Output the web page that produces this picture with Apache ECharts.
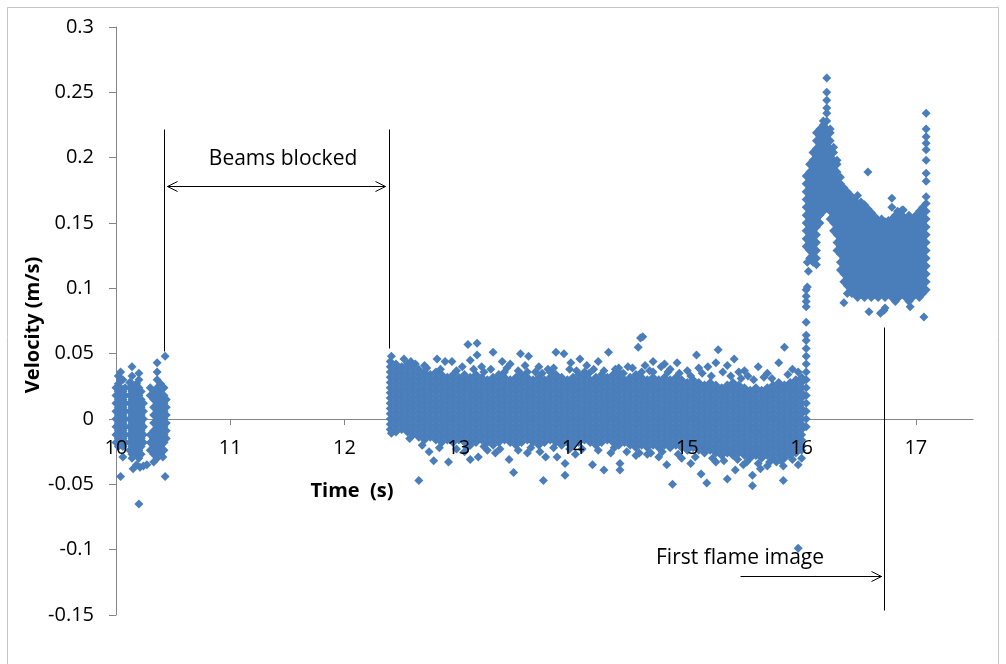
<!DOCTYPE html>
<html>
<head>
<meta charset="utf-8">
<script src="https://cdn.jsdelivr.net/npm/echarts@6/dist/echarts.min.js"></script>
<style>
  html, body { margin: 0; padding: 0; background: #ffffff; }
  #chart { width: 1006px; height: 664px; }
</style>
</head>
<body>
<div id="chart"></div>
<script>
// Velocity samples, recorded in mm/s and plotted in m/s.
// Each column row: [time (s), velocity, velocity, ...] for samples sharing that time bin.

// Before the beams are blocked
const preBlockColumns = [
  [10.00, -18, -12, -6, 0, 6, 12, 18, 24],
  [10.02, -21, -15, -9, -3, 3, 9, 15, 21, 27, 33],
  [10.04, -18, -12, -6, 0, 6, 12, 18, 24, 30, 36],
  [10.06, -21, -15, -9, -3, 3, 9, 15, 21, 30],
  [10.08, -18, -12, -6, 0, 6, 12, 18, 24],
  [10.12, -24, -18, -12, -6, 0, 6, 12, 18, 24, 28],
  [10.14, -30, -27, -21, -15, -9, -3, 3, 9, 15, 21, 27, 33, 40],
  [10.16, -24, -18, -12, -6, 0, 6, 12, 18, 24],
  [10.18, -27, -21, -15, -9, -3, 3, 9, 15, 21, 27],
  [10.20, -30, -24, -18, -12, -6, 0, 6, 12, 18, 24, 30, 35],
  [10.22, -27, -21, -15, -9, -3, 3, 9, 15, 21],
  [10.24, -18, -12, -6, 0, 6, 12],
  [10.30, -24, -18, -12, 18, 24],
  [10.33, -27, -21, -15, -9, -3, 3, 9, 15, 21],
  [10.36, -30, -24, -18, -12, -6, 0, 6, 12, 18, 24, 30, 36, 43],
  [10.39, -27, -21, -15, -9, -3, 3, 9, 15, 21, 27],
  [10.42, -24, -18, -12, -6, 0, 6, 12, 18, 24],
  [10.44, -15, -9, -3, 3, 9, 15]
];

// After the beams clear, up to ignition
const postBlockColumns = [
  [12.40, -8, -4, 0, 4, 8, 12, 16, 20, 24, 28, 32, 36, 40, 44],
  [12.45, -10, -6, -2, 2, 6, 10, 14, 18, 22, 26, 30, 34, 38, 42],
  [12.50, -8, -4, 0, 4, 8, 12, 16, 20, 24, 28, 32, 36, 40],
  [12.55, -10, -6, -2, 2, 6, 10, 14, 18, 22, 26, 30, 34, 38, 42],
  [12.60, -12, -8, -4, 0, 4, 8, 12, 16, 20, 24, 28, 32, 36, 40],
  [12.65, -14, -10, -6, -2, 2, 6, 10, 14, 18, 22, 26, 30, 34, 38],
  [12.70, -16, -12, -8, -4, 0, 4, 8, 12, 16, 20, 24, 28, 32, 36],
  [12.75, -14, -10, -6, -2, 2, 6, 10, 14, 18, 22, 26, 30, 34],
  [12.80, -16, -12, -8, -4, 0, 4, 8, 12, 16, 20, 24, 28, 32, 36],
  [12.85, -18, -14, -10, -6, -2, 2, 6, 10, 14, 18, 22, 26, 30, 34],
  [12.90, -16, -12, -8, -4, 0, 4, 8, 12, 16, 20, 24, 28, 32],
  [12.95, -18, -14, -10, -6, -2, 2, 6, 10, 14, 18, 22, 26, 30, 34],
  [13.00, -16, -12, -8, -4, 0, 4, 8, 12, 16, 20, 24, 28, 32],
  [13.05, -18, -14, -10, -6, -2, 2, 6, 10, 14, 18, 22, 26, 30, 34],
  [13.10, -20, -16, -12, -8, -4, 0, 4, 8, 12, 16, 20, 24, 28, 32],
  [13.15, -18, -14, -10, -6, -2, 2, 6, 10, 14, 18, 22, 26, 30, 34],
  [13.20, -16, -12, -8, -4, 0, 4, 8, 12, 16, 20, 24, 28, 32],
  [13.25, -18, -14, -10, -6, -2, 2, 6, 10, 14, 18, 22, 26, 30],
  [13.30, -20, -16, -12, -8, -4, 0, 4, 8, 12, 16, 20, 24, 28, 32],
  [13.35, -18, -14, -10, -6, -2, 2, 6, 10, 14, 18, 22, 26, 30, 34],
  [13.40, -16, -12, -8, -4, 0, 4, 8, 12, 16, 20, 24, 28, 32, 36],
  [13.45, -18, -14, -10, -6, -2, 2, 6, 10, 14, 18, 22, 26, 30],
  [13.50, -20, -16, -12, -8, -4, 0, 4, 8, 12, 16, 20, 24, 28, 32],
  [13.55, -18, -14, -10, -6, -2, 2, 6, 10, 14, 18, 22, 26, 30, 34],
  [13.60, -16, -12, -8, -4, 0, 4, 8, 12, 16, 20, 24, 28, 32, 36],
  [13.65, -18, -14, -10, -6, -2, 2, 6, 10, 14, 18, 22, 26, 30],
  [13.70, -20, -16, -12, -8, -4, 0, 4, 8, 12, 16, 20, 24, 28, 32],
  [13.75, -18, -14, -10, -6, -2, 2, 6, 10, 14, 18, 22, 26, 30],
  [13.80, -16, -12, -8, -4, 0, 4, 8, 12, 16, 20, 24, 28, 32, 36],
  [13.85, -18, -14, -10, -6, -2, 2, 6, 10, 14, 18, 22, 26, 30, 34],
  [13.90, -20, -16, -12, -8, -4, 0, 4, 8, 12, 16, 20, 24, 28, 32],
  [13.95, -18, -14, -10, -6, -2, 2, 6, 10, 14, 18, 22, 26, 30],
  [14.00, -20, -16, -12, -8, -4, 0, 4, 8, 12, 16, 20, 24, 28, 32],
  [14.05, -18, -14, -10, -6, -2, 2, 6, 10, 14, 18, 22, 26, 30, 34],
  [14.10, -16, -12, -8, -4, 0, 4, 8, 12, 16, 20, 24, 28, 32, 36],
  [14.15, -18, -14, -10, -6, -2, 2, 6, 10, 14, 18, 22, 26, 30],
  [14.20, -20, -16, -12, -8, -4, 0, 4, 8, 12, 16, 20, 24, 28, 32],
  [14.25, -18, -14, -10, -6, -2, 2, 6, 10, 14, 18, 22, 26, 30, 34],
  [14.30, -16, -12, -8, -4, 0, 4, 8, 12, 16, 20, 24, 28, 32],
  [14.35, -18, -14, -10, -6, -2, 2, 6, 10, 14, 18, 22, 26, 30, 34],
  [14.40, -20, -16, -12, -8, -4, 0, 4, 8, 12, 16, 20, 24, 28, 32, 36],
  [14.45, -18, -14, -10, -6, -2, 2, 6, 10, 14, 18, 22, 26, 30],
  [14.50, -20, -16, -12, -8, -4, 0, 4, 8, 12, 16, 20, 24, 28, 32],
  [14.55, -22, -18, -14, -10, -6, -2, 2, 6, 10, 14, 18, 22, 26, 30, 34],
  [14.60, -20, -16, -12, -8, -4, 0, 4, 8, 12, 16, 20, 24, 28, 32, 36],
  [14.65, -22, -18, -14, -10, -6, -2, 2, 6, 10, 14, 18, 22, 26, 30],
  [14.70, -20, -16, -12, -8, -4, 0, 4, 8, 12, 16, 20, 24, 28, 32, 36],
  [14.75, -22, -18, -14, -10, -6, -2, 2, 6, 10, 14, 18, 22, 26, 30],
  [14.80, -20, -16, -12, -8, -4, 0, 4, 8, 12, 16, 20, 24, 28, 32],
  [14.85, -22, -18, -14, -10, -6, -2, 2, 6, 10, 14, 18, 22, 26, 30],
  [14.90, -20, -16, -12, -8, -4, 0, 4, 8, 12, 16, 20, 24, 28, 32],
  [14.95, -22, -18, -14, -10, -6, -2, 2, 6, 10, 14, 18, 22, 26, 30],
  [15.00, -24, -20, -16, -12, -8, -4, 0, 4, 8, 12, 16, 20, 24, 28],
  [15.05, -22, -18, -14, -10, -6, -2, 2, 6, 10, 14, 18, 22, 26, 30],
  [15.10, -24, -20, -16, -12, -8, -4, 0, 4, 8, 12, 16, 20, 24, 28],
  [15.15, -26, -22, -18, -14, -10, -6, -2, 2, 6, 10, 14, 18, 22, 26],
  [15.20, -24, -20, -16, -12, -8, -4, 0, 4, 8, 12, 16, 20, 24, 28],
  [15.25, -26, -22, -18, -14, -10, -6, -2, 2, 6, 10, 14, 18, 22, 26],
  [15.30, -28, -24, -20, -16, -12, -8, -4, 0, 4, 8, 12, 16, 20, 24],
  [15.35, -26, -22, -18, -14, -10, -6, -2, 2, 6, 10, 14, 18, 22, 26],
  [15.40, -28, -24, -20, -16, -12, -8, -4, 0, 4, 8, 12, 16, 20, 24, 28],
  [15.45, -26, -22, -18, -14, -10, -6, -2, 2, 6, 10, 14, 18, 22, 26],
  [15.50, -28, -24, -20, -16, -12, -8, -4, 0, 4, 8, 12, 16, 20, 24],
  [15.55, -30, -26, -22, -18, -14, -10, -6, -2, 2, 6, 10, 14, 18, 22],
  [15.60, -28, -24, -20, -16, -12, -8, -4, 0, 4, 8, 12, 16, 20, 24],
  [15.65, -30, -26, -22, -18, -14, -10, -6, -2, 2, 6, 10, 14, 18, 22],
  [15.70, -28, -24, -20, -16, -12, -8, -4, 0, 4, 8, 12, 16, 20, 24],
  [15.75, -30, -26, -22, -18, -14, -10, -6, -2, 2, 6, 10, 14, 18, 22, 26],
  [15.80, -28, -24, -20, -16, -12, -8, -4, 0, 4, 8, 12, 16, 20, 24, 28],
  [15.85, -30, -26, -22, -18, -14, -10, -6, -2, 2, 6, 10, 14, 18, 22, 26],
  [15.90, -28, -24, -20, -16, -12, -8, -4, 0, 4, 8, 12, 16, 20, 24, 28],
  [15.95, -26, -22, -18, -14, -10, -6, -2, 2, 6, 10, 14, 18, 22, 26, 30],
  [16.00, -24, -20, -16, -12, -8, -4, 0, 4, 8, 12, 16, 20, 24, 28, 32],
  [16.04, -6, 0, 6, 12, 18, 24, 30, 36, 42, 48, 54, 60, 64, 74, 86, 90, 94, 99],
  [16.05, 101, 120]
];

// Ignition and flame passage
const flameColumns = [
  [16.04, 132, 138, 144, 150, 156, 162, 168, 174, 180, 186],
  [16.07, 123, 129, 135, 141, 147, 153, 159, 165, 171, 177, 183, 189, 195],
  [16.10, 120, 126, 132, 138, 144, 150, 156, 162, 168, 174, 180, 186, 192, 198, 204],
  [16.13, 123, 129, 135, 141, 147, 153, 159, 165, 171, 177, 183, 189, 195, 201, 207, 213, 219],
  [16.16, 150, 156, 162, 168, 174, 180, 186, 192, 198, 204, 210, 216, 222],
  [16.19, 159, 165, 171, 177, 183, 189, 195, 201, 207, 213, 219, 225, 228],
  [16.22, 162, 168, 174, 180, 186, 192, 198, 204, 210, 216, 222, 228, 234, 238, 244, 250, 261],
  [16.25, 153, 159, 165, 171, 177, 183, 189, 195, 201, 207, 213, 219, 222],
  [16.28, 144, 150, 156, 162, 168, 174, 180, 186, 192, 198, 204, 208],
  [16.31, 129, 135, 141, 147, 153, 159, 165, 171, 177, 183, 189, 195, 198],
  [16.34, 114, 120, 126, 132, 138, 144, 150, 156, 162, 168, 174, 180, 185],
  [16.37, 105, 111, 117, 123, 129, 135, 141, 147, 153, 159, 165, 171, 177],
  [16.40, 96, 102, 108, 114, 120, 126, 132, 138, 144, 150, 156, 162, 168, 174],
  [16.43, 99, 105, 111, 117, 123, 129, 135, 141, 147, 153, 159, 165, 171],
  [16.46, 96, 102, 108, 114, 120, 126, 132, 138, 144, 150, 156, 162, 168],
  [16.49, 93, 99, 105, 111, 117, 123, 129, 135, 141, 147, 153, 159, 165, 171],
  [16.52, 96, 102, 108, 114, 120, 126, 132, 138, 144, 150, 156, 162, 166],
  [16.55, 93, 99, 105, 111, 117, 123, 129, 135, 141, 147, 153, 159, 164],
  [16.58, 96, 102, 108, 114, 120, 126, 132, 138, 144, 150, 156, 161],
  [16.61, 93, 99, 105, 111, 117, 123, 129, 135, 141, 147, 153, 158],
  [16.64, 96, 102, 108, 114, 120, 126, 132, 138, 144, 150, 155],
  [16.67, 93, 99, 105, 111, 117, 123, 129, 135, 141, 147, 152],
  [16.70, 96, 102, 108, 114, 120, 126, 132, 138, 144, 150, 153],
  [16.73, 93, 99, 105, 111, 117, 123, 129, 135, 141, 147, 151],
  [16.76, 96, 102, 108, 114, 120, 126, 132, 138, 144, 150, 152],
  [16.79, 93, 99, 105, 111, 117, 123, 129, 135, 141, 147, 153],
  [16.82, 90, 96, 102, 108, 114, 120, 126, 132, 138, 144, 150, 156],
  [16.85, 93, 99, 105, 111, 117, 123, 129, 135, 141, 147, 153, 158],
  [16.88, 96, 102, 108, 114, 120, 126, 132, 138, 144, 150, 156, 160],
  [16.91, 93, 99, 105, 111, 117, 123, 129, 135, 141, 147, 153],
  [16.94, 90, 96, 102, 108, 114, 120, 126, 132, 138, 144, 150, 156],
  [16.97, 93, 99, 105, 111, 117, 123, 129, 135, 141, 147, 153],
  [17.00, 96, 102, 108, 114, 120, 126, 132, 138, 144, 150, 156],
  [17.03, 93, 99, 105, 111, 117, 123, 129, 135, 141, 147, 153, 159],
  [17.06, 96, 102, 108, 114, 120, 126, 132, 138, 144, 150, 156, 162],
  [17.09, 99, 105, 111, 117, 123, 129, 135, 141, 147, 153, 159, 165, 170, 182, 188, 198, 206, 211, 216, 222, 234]
];

// Isolated readings: [time (s), velocity (mm/s)]
const scatteredReadings = [
  [10.04, -44], [10.06, -29], [10.15, -38], [10.18, -35], [10.20, -65], [10.21, -37],
  [10.24, -36], [10.27, -35], [10.33, -33], [10.41, -29], [10.43, -44], [10.43, 48],
  [12.41, 48], [13.08, 57], [13.16, 58], [13.30, 51], [13.54, 50], [13.61, 48],
  [13.85, 51], [13.92, 50], [14.06, 46], [14.31, 51], [14.57, 55], [14.59, 62],
  [14.61, 63], [15.08, 49], [15.27, 53], [15.41, 46], [15.85, 55], [15.80, 43],
  [14.91, 43], [15.25, 43], [15.00, 37], [15.10, 39], [12.81, 46], [12.88, 44],
  [12.94, 44], [13.10, 45], [13.16, 49], [13.38, 44], [13.45, 42], [13.70, 40],
  [13.98, 43], [14.12, 41], [14.22, 44], [14.48, 40], [14.70, 44], [14.80, 42],
  [15.18, 40], [15.35, 41], [15.50, 37], [15.62, 40], [15.70, 35], [15.92, 38],
  [12.70, 41], [13.20, 40], [13.78, 38], [14.40, 39], [14.85, 38], [15.45, 36],
  [12.52, 46], [12.58, 44], [12.62, 42], [12.72, 39], [12.84, 38], [12.98, 37],
  [13.03, 40], [13.13, 38], [13.22, 36], [13.28, 38], [13.42, 39], [13.52, 37],
  [13.58, 41], [13.67, 36], [13.73, 35], [13.83, 39], [13.97, 38], [14.03, 37],
  [14.14, 35], [14.18, 38], [14.27, 37], [14.37, 38], [14.44, 35], [14.52, 39],
  [14.63, 41], [14.67, 37], [14.77, 40], [14.83, 36], [14.93, 35], [15.03, 33],
  [15.13, 35], [15.21, 33], [15.31, 36], [15.38, 33], [15.47, 31], [15.53, 33],
  [15.58, 30], [15.67, 32], [15.74, 31], [15.88, 34], [15.97, 36],
  [12.41, -11], [12.65, -47], [12.74, -25], [12.78, -32], [12.91, -33], [13.10, -31],
  [13.17, -29], [13.32, -26], [13.44, -31], [13.48, -41], [13.74, -47], [13.76, -29],
  [13.86, -29], [13.93, -34], [13.93, -43], [14.17, -35], [14.27, -39], [14.41, -39],
  [14.41, -34], [14.65, -27], [14.75, -29], [14.82, -35], [14.87, -50], [15.03, -34],
  [15.12, -42], [15.17, -49], [15.35, -46], [15.42, -39], [15.49, -35], [15.57, -51],
  [15.64, -38], [15.57, -43], [15.84, -47], [15.84, -36], [15.97, -35], [15.97, -99],
  [13.05, -25], [13.60, -26], [14.02, -27], [14.55, -28], [15.25, -33], [15.70, -36],
  [15.78, -33], [16.00, -30], [13.25, -24], [14.33, -26], [14.95, -30],
  [12.57, -15], [12.68, -20], [12.83, -22], [12.98, -23], [13.07, -22], [13.22, -21],
  [13.36, -23], [13.52, -24], [13.63, -22], [13.71, -25], [13.83, -22], [13.97, -23],
  [14.08, -23], [14.22, -24], [14.36, -22], [14.47, -25], [14.58, -26], [14.68, -26],
  [14.78, -25], [14.92, -27], [15.07, -29], [15.22, -30], [15.32, -32], [15.44, -31],
  [15.52, -33], [15.62, -34], [15.72, -33], [15.82, -32], [15.92, -31],
  [16.58, 189], [16.59, 82], [16.72, 83], [16.69, 81], [16.73, 85], [16.95, 86],
  [17.07, 78], [16.37, 89], [16.09, 128], [16.13, 118], [16.06, 113], [16.44, 96],
  [16.79, 169], [16.79, 162], [16.84, 159], [16.89, 160]
];

// Axis ticks
const xTickValues = [10, 11, 12, 13, 14, 15, 16, 17];
const xTickLabels = ['10', '11', '12', '13', '14', '15', '16', '17'];
const yTickValues = [-0.15, -0.1, -0.05, 0, 0.05, 0.1, 0.15, 0.2, 0.25, 0.3];
const yTickLabels = ['-0.15', '-0.1', '-0.05', '0', '0.05', '0.1', '0.15', '0.2', '0.25', '0.3'];

// Annotation anchors in data units (time s, velocity m/s)
const notes = {
  blockStart: 10.416, blockEnd: 12.393, blockTop: 0.2219,
  blockStartBottom: 0.052, blockEndBottom: 0.0543,
  blockArrowV: 0.1783, blockArrowFrom: 10.447, blockArrowTo: 12.356,
  blockLabel: [11.462, 0.1986],
  flameT: 16.719, flameTop: 0.0704, flameBottom: -0.1462,
  flameArrowV: -0.1201, flameArrowFrom: 15.464, flameArrowTo: 16.694,
  flameLabel: [14.726, -0.1064]
};

const points = [];
[preBlockColumns, postBlockColumns, flameColumns].forEach(function (cols) {
  cols.forEach(function (col) {
    for (let i = 1; i < col.length; i++) points.push([col[0], col[i] / 1000]);
  });
});
scatteredReadings.forEach(function (r) { points.push([r[0], r[1] / 1000]); });

const axisGray = '#868686';
const fontFamily = '"Open Sans", "Liberation Sans", sans-serif';

const chart = echarts.init(document.getElementById('chart'), null, { renderer: 'canvas' });

chart.setOption({
  animation: false,
  backgroundColor: '#ffffff',
  grid: { left: 116, right: 33, top: 27, bottom: 49, containLabel: false },
  xAxis: {
    type: 'value',
    min: 10,
    max: 17.5,
    interval: 1,
    splitLine: { show: false },
    axisLine: { show: true, onZero: true, lineStyle: { color: axisGray, width: 1 } },
    axisTick: { show: true, length: 6, customValues: xTickValues, lineStyle: { color: axisGray } },
    axisLabel: { show: false }
  },
  yAxis: {
    type: 'value',
    min: -0.15,
    max: 0.3,
    interval: 0.05,
    splitLine: { show: false },
    axisLine: { show: true, onZero: false, lineStyle: { color: axisGray, width: 1 } },
    axisTick: { show: true, length: 7, customValues: yTickValues, lineStyle: { color: axisGray } },
    axisLabel: {
      customValues: yTickValues,
      margin: 22,
      color: '#000',
      fontSize: 20,
      fontFamily: fontFamily,
      formatter: function (v) {
        let best = 0;
        yTickValues.forEach(function (t, i) {
          if (Math.abs(t - v) < Math.abs(yTickValues[best] - v)) best = i;
        });
        return yTickLabels[best];
      }
    }
  },
  series: [{
    type: 'scatter',
    data: points,
    symbol: 'diamond',
    symbolSize: 9,
    clip: false,
    large: false,
    progressive: 0,
    itemStyle: { color: '#4A7EBB', opacity: 1 },
    emphasis: { disabled: true }
  }]
});

function toPx(t, v) {
  const p = chart.convertToPixel({ gridIndex: 0 }, [t, v]);
  return [Math.round(p[0]) + 0.5, Math.round(p[1]) + 0.5];
}

function segment(a, b) {
  return {
    type: 'line', silent: true, z: 50,
    shape: { x1: a[0], y1: a[1], x2: b[0], y2: b[1] },
    style: { stroke: '#000', lineWidth: 1 }
  };
}

function head(tip, dir) {
  // open arrowhead pointing along dir (+1 right, -1 left)
  return {
    type: 'polyline', silent: true, z: 50,
    shape: { points: [[tip[0] - dir * 10, tip[1] - 5], tip, [tip[0] - dir * 10, tip[1] + 5]] },
    style: { stroke: '#000', lineWidth: 1, fill: null }
  };
}

function text(str, pos, size, weight, align, rotation) {
  return {
    type: 'text', silent: true, z: 50,
    x: pos[0], y: pos[1], rotation: rotation || 0,
    style: {
      text: str, fontSize: size, fontWeight: weight, fontFamily: fontFamily,
      fill: '#000', align: align, verticalAlign: 'middle'
    }
  };
}

const s1Top = toPx(notes.blockStart, notes.blockTop);
const s1Bot = toPx(notes.blockStart, notes.blockStartBottom);
const s2Top = toPx(notes.blockEnd, notes.blockTop);
const s2Bot = toPx(notes.blockEnd, notes.blockEndBottom);
const a1L = toPx(notes.blockArrowFrom, notes.blockArrowV);
const a1R = toPx(notes.blockArrowTo, notes.blockArrowV);
const l1 = chart.convertToPixel({ gridIndex: 0 }, notes.blockLabel);
const f1Top = toPx(notes.flameT, notes.flameTop);
const f1Bot = toPx(notes.flameT, notes.flameBottom);
const a2L = toPx(notes.flameArrowFrom, notes.flameArrowV);
const a2R = toPx(notes.flameArrowTo, notes.flameArrowV);
const l2 = chart.convertToPixel({ gridIndex: 0 }, notes.flameLabel);

// Time tick labels sit below the zero line
const xLabelEls = xTickValues.map(function (t, i) {
  const p = chart.convertToPixel({ gridIndex: 0 }, [t, 0]);
  return text(xTickLabels[i], [p[0], p[1] + 29], 20, 'normal', 'center');
});

chart.setOption({
  graphic: [
    {
      type: 'rect', silent: true, z: 0,
      shape: { x: 7.5, y: 7.5, width: 991, height: 700 },
      style: { fill: null, stroke: '#c4c4c4', lineWidth: 1 }
    },
    segment(s1Top, s1Bot),
    segment(s2Top, s2Bot),
    segment(a1L, a1R),
    head(a1L, -1),
    head(a1R, 1),
    text('Beams blocked', l1, 21, 'normal', 'center'),
    segment(f1Top, f1Bot),
    segment(a2L, a2R),
    head(a2R, 1),
    text('First flame image', l2, 21, 'normal', 'left'),
    text('Time  (s)', [352, 491], 20, 'bold', 'center'),
    text('Velocity (m/s)', [33, 325], 20, 'bold', 'center', Math.PI / 2)
  ].concat(xLabelEls)
});
</script>
</body>
</html>
